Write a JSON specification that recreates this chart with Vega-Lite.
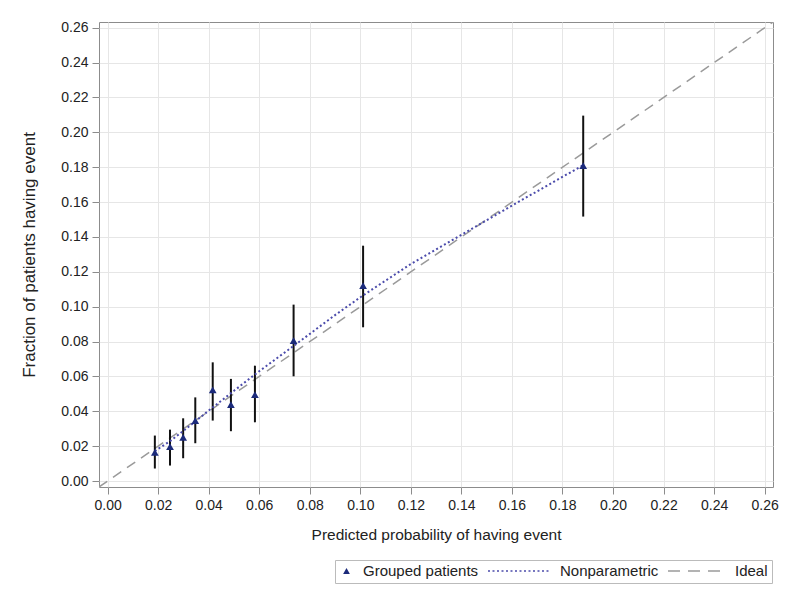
{
  "$schema": "https://vega.github.io/schema/vega-lite/v6.json",
  "autosize": "none",
  "width": 674,
  "height": 465,
  "padding": {"left": 99, "top": 22, "right": 27, "bottom": 114},
  "background": "white",
  "config": {
    "font": "Liberation Sans",
    "view": {"stroke": "#8c8c8c", "strokeWidth": 1},
    "axis": {
      "labelFont": "Liberation Sans",
      "titleFont": "Liberation Sans",
      "labelFontSize": 14,
      "titleFontSize": 15.5,
      "titleFontWeight": "normal",
      "labelColor": "#222",
      "titleColor": "#222",
      "gridColor": "#e6e6e6",
      "tickColor": "#8c8c8c",
      "domain": false,
      "tickSize": 7
    },
    "legend": {
      "labelFont": "Liberation Sans", "labelFontSize": 15, "labelColor": "#222",
      "title": null, "orient": "none", "legendX": 236, "legendY": 538, "direction": "horizontal",
      "strokeColor": "#bbbbbb", "padding": 4, "columnPadding": 8, "clipHeight": 14,
      "symbolStrokeWidth": 1.5, "labelOffset": 9
    }
  },
  "datasets": {
    "pts": [
      {"pred": 0.0187, "obs": 0.0165, "lo": 0.0072, "hi": 0.0261},
      {"pred": 0.0247, "obs": 0.0198, "lo": 0.0089, "hi": 0.0295},
      {"pred": 0.0299, "obs": 0.0251, "lo": 0.0131, "hi": 0.0360},
      {"pred": 0.0347, "obs": 0.0347, "lo": 0.0217, "hi": 0.0480},
      {"pred": 0.0416, "obs": 0.0523, "lo": 0.0347, "hi": 0.0681},
      {"pred": 0.0488, "obs": 0.0439, "lo": 0.0286, "hi": 0.0586},
      {"pred": 0.0583, "obs": 0.0496, "lo": 0.0337, "hi": 0.0662},
      {"pred": 0.0736, "obs": 0.0806, "lo": 0.0601, "hi": 0.1012},
      {"pred": 0.1011, "obs": 0.1121, "lo": 0.0882, "hi": 0.1350},
      {"pred": 0.1882, "obs": 0.1809, "lo": 0.1517, "hi": 0.2096}
    ],
    "np": [
      {"pred": 0.0187, "obs": 0.0172},
      {"pred": 0.025, "obs": 0.0232},
      {"pred": 0.03, "obs": 0.0288},
      {"pred": 0.035, "obs": 0.0346},
      {"pred": 0.04, "obs": 0.0404},
      {"pred": 0.05, "obs": 0.0518},
      {"pred": 0.06, "obs": 0.0630},
      {"pred": 0.0736, "obs": 0.0775},
      {"pred": 0.09, "obs": 0.0952},
      {"pred": 0.1011, "obs": 0.1065},
      {"pred": 0.12, "obs": 0.1245},
      {"pred": 0.14, "obs": 0.1412},
      {"pred": 0.16, "obs": 0.1580},
      {"pred": 0.1882, "obs": 0.1812}
    ],
    "ideal": [
      {"pred": -0.0034, "obs": -0.0034},
      {"pred": 0.2633, "obs": 0.2633}
    ],
    "legendonly": []
  },
  "encoding": {
    "x": {
      "field": "pred", "type": "quantitative",
      "scale": {"domain": [-0.0034, 0.2633], "nice": false, "zero": false},
      "axis": {"title": "Predicted probability of having event", "values": [0, 0.02, 0.04, 0.06, 0.08, 0.1, 0.12, 0.14, 0.16, 0.18, 0.2, 0.22, 0.24, 0.26], "format": ".2f", "labelPadding": 4, "titlePadding": 15, "labelFlush": false}
    },
    "y": {
      "field": "obs", "type": "quantitative",
      "scale": {"domain": [-0.0034, 0.2633], "nice": false, "zero": false},
      "axis": {"title": "Fraction of patients having event", "values": [0, 0.02, 0.04, 0.06, 0.08, 0.1, 0.12, 0.14, 0.16, 0.18, 0.2, 0.22, 0.24, 0.26], "format": ".2f", "labelPadding": 4, "titlePadding": 22, "titleFontSize": 17, "labelFlush": false}
    }
  },
  "layer": [
    {
      "data": {"name": "ideal"},
      "mark": {"type": "line", "color": "#9a9a9a", "strokeWidth": 1.5, "strokeDash": [10, 7], "clip": true},
      "encoding": {}
    },
    {
      "data": {"name": "pts"},
      "mark": {"type": "rule", "color": "#111", "strokeWidth": 2},
      "encoding": {"y": {"field": "lo", "type": "quantitative"}, "y2": {"field": "hi"}}
    },
    {
      "data": {"name": "np"},
      "mark": {"type": "line", "color": "#4b4bab", "strokeWidth": 2, "strokeDash": [2, 2.5]},
      "encoding": {}
    },
    {
      "data": {"name": "pts"},
      "mark": {"type": "point", "filled": true, "color": "#1b2a7a", "opacity": 1, "size": 60, "shape": "triangle-up"},
      "encoding": {}
    },
    {
      "data": {"name": "legendonly"},
      "mark": {"type": "point", "strokeWidth": 1.5, "opacity": 1},
      "encoding": {
        "shape": {
          "field": "series", "type": "nominal",
          "scale": {"domain": ["Grouped patients", "Nonparametric", "Ideal"], "range": ["triangle-up", "stroke", "stroke"]}
        },
        "size": {
          "field": "series", "type": "nominal",
          "scale": {"type": "ordinal", "domain": ["Grouped patients", "Nonparametric", "Ideal"], "range": [45, 3844, 3249]}
        },
        "fill": {
          "field": "series", "type": "nominal",
          "scale": {"domain": ["Grouped patients", "Nonparametric", "Ideal"], "range": ["#1b2a7a", "transparent", "transparent"]}
        },
        "stroke": {
          "field": "series", "type": "nominal",
          "scale": {"domain": ["Grouped patients", "Nonparametric", "Ideal"], "range": ["transparent", "#4b4bab", "#9a9a9a"]}
        },
        "strokeDash": {
          "field": "series", "type": "nominal",
          "scale": {"domain": ["Grouped patients", "Nonparametric", "Ideal"], "range": [[1, 0], [2, 2.5], [12, 8]]}
        }
      }
    }
  ]
}
